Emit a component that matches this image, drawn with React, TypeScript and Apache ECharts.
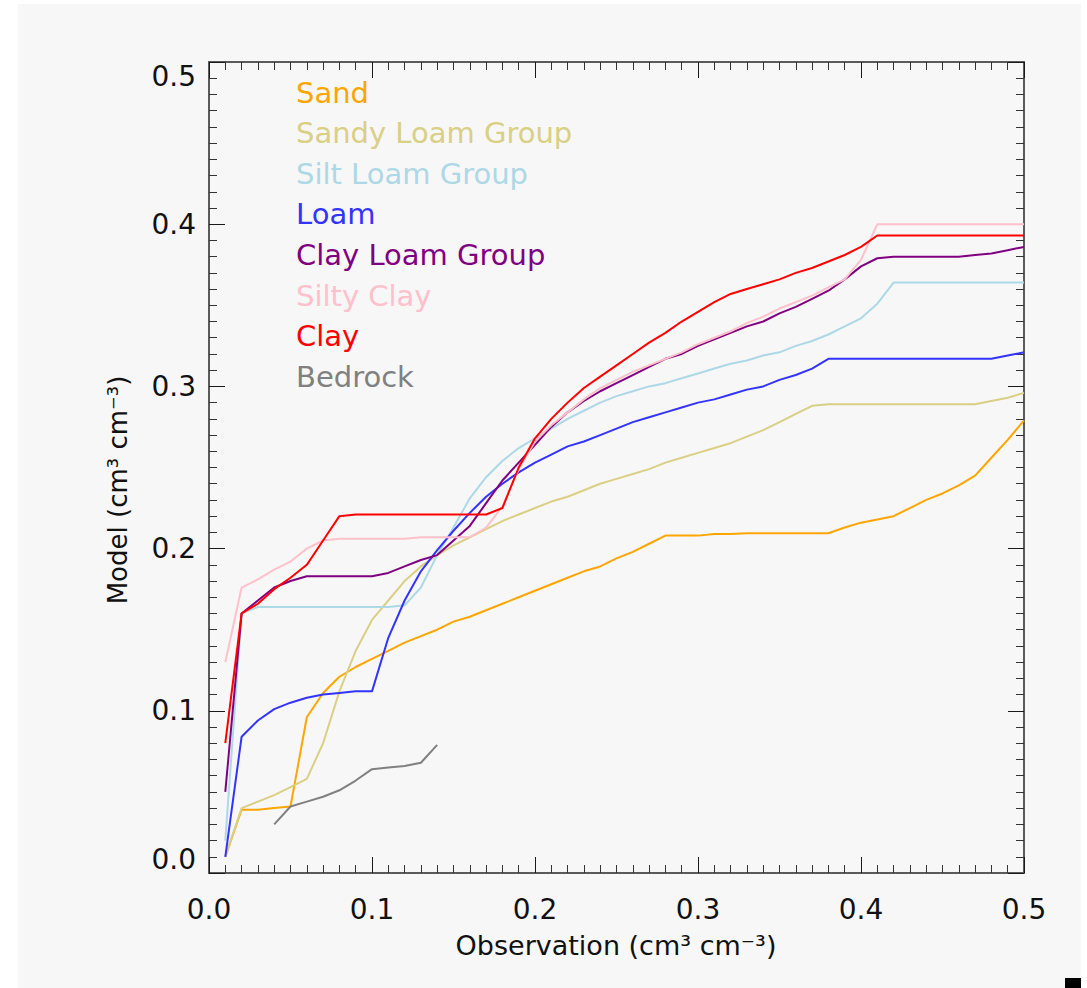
import React, { useEffect, useRef } from "react";
import * as echarts from "echarts";

const obsX = [0.01,0.02,0.03,0.04,0.05,0.06,0.07,0.08,0.09,0.10,0.11,0.12,0.13,0.14,0.15,0.16,0.17,0.18,0.19,0.20,0.21,0.22,0.23,0.24,0.25,0.26,0.27,0.28,0.29,0.30,0.31,0.32,0.33,0.34,0.35,0.36,0.37,0.38,0.39,0.40,0.41,0.42,0.43,0.44,0.45,0.46,0.47,0.48,0.49,0.50];

const sand = [0.010,0.039,0.039,0.040,0.041,0.096,0.111,0.121,0.127,0.132,0.137,0.142,0.146,0.150,0.155,0.158,0.162,0.166,0.170,0.174,0.178,0.182,0.186,0.189,0.194,0.198,0.203,0.208,0.208,0.208,0.209,0.209,0.2095,0.2095,0.2095,0.2095,0.2095,0.2095,0.213,0.216,0.218,0.220,0.225,0.230,0.234,0.239,0.245,0.256,0.267,0.279];

const sandyLoam = [0.010,0.040,0.044,0.048,0.053,0.058,0.080,0.112,0.137,0.156,0.168,0.180,0.189,0.196,0.202,0.207,0.212,0.217,0.221,0.225,0.229,0.232,0.236,0.240,0.243,0.246,0.249,0.253,0.256,0.259,0.262,0.265,0.269,0.273,0.278,0.283,0.288,0.289,0.289,0.289,0.289,0.289,0.289,0.289,0.289,0.289,0.289,0.291,0.293,0.296];

const siltLoam = [0.020,0.160,0.164,0.164,0.164,0.164,0.164,0.164,0.164,0.164,0.164,0.165,0.176,0.196,0.213,0.231,0.244,0.254,0.262,0.268,0.274,0.280,0.285,0.290,0.294,0.297,0.300,0.302,0.305,0.308,0.311,0.314,0.316,0.319,0.321,0.325,0.328,0.332,0.337,0.342,0.351,0.364,0.364,0.364,0.364,0.364,0.364,0.364,0.364,0.364];

const loam = [0.010,0.084,0.094,0.101,0.105,0.108,0.110,0.111,0.112,0.112,0.145,0.168,0.186,0.199,0.211,0.222,0.232,0.240,0.247,0.253,0.258,0.263,0.266,0.270,0.274,0.278,0.281,0.284,0.287,0.290,0.292,0.295,0.298,0.300,0.304,0.307,0.311,0.317,0.317,0.317,0.317,0.317,0.317,0.317,0.317,0.317,0.317,0.317,0.319,0.321];

const clayLoam = [0.050,0.160,0.168,0.176,0.180,0.183,0.183,0.183,0.183,0.183,0.185,0.189,0.193,0.196,0.205,0.214,0.228,0.242,0.253,0.264,0.275,0.284,0.291,0.297,0.302,0.307,0.312,0.317,0.320,0.325,0.329,0.333,0.337,0.340,0.345,0.349,0.354,0.359,0.366,0.374,0.379,0.380,0.380,0.380,0.380,0.380,0.381,0.382,0.384,0.386];

const siltyClay = [0.130,0.176,0.181,0.187,0.192,0.200,0.205,0.206,0.206,0.206,0.206,0.206,0.207,0.207,0.207,0.207,0.213,0.226,0.249,0.266,0.276,0.284,0.292,0.299,0.304,0.309,0.313,0.317,0.321,0.326,0.330,0.334,0.339,0.343,0.348,0.352,0.356,0.361,0.366,0.378,0.400,0.400,0.400,0.400,0.400,0.400,0.400,0.400,0.400,0.400];

const clay = [0.080,0.160,0.166,0.175,0.182,0.190,0.205,0.220,0.221,0.221,0.221,0.221,0.221,0.221,0.221,0.221,0.221,0.225,0.250,0.268,0.280,0.290,0.299,0.306,0.313,0.320,0.327,0.333,0.340,0.346,0.352,0.357,0.360,0.363,0.366,0.370,0.373,0.377,0.381,0.386,0.393,0.393,0.393,0.393,0.393,0.393,0.393,0.393,0.393,0.393];

const bedrockX = [0.04,0.05,0.06,0.07,0.08,0.09,0.10,0.11,0.12,0.13,0.14];
const bedrock = [0.030,0.041,0.044,0.047,0.051,0.057,0.064,0.065,0.066,0.068,0.079];

const seriesNames = ["Sand","Sandy Loam Group","Silt Loam Group","Loam","Clay Loam Group","Silty Clay","Clay","Bedrock"];
const seriesColors = ["#ffa500","#d9cf85","#add8e6","#3333ff","#800080","#ffc0cb","#ff0000","#808080"];
const seriesValues = [sand, sandyLoam, siltLoam, loam, clayLoam, siltyClay, clay, bedrock];
const seriesX = [obsX, obsX, obsX, obsX, obsX, obsX, obsX, bedrockX];

const tickFmt = (v: number) => v.toFixed(1);
const FONT = "DejaVu Sans";

export default function App() {
  const ref = useRef<HTMLDivElement>(null);
  useEffect(() => {
    if (!ref.current) return;
    const chart = echarts.init(ref.current, null, { renderer: "svg" });
    const axisLine = { show: true, onZero: false, lineStyle: { color: "#5a5a5a", width: 2 } };
    const axisTick = { show: true, inside: true, length: 16, lineStyle: { color: "#1a1a1a", width: 1 } };
    const minorTick = { show: true, splitNumber: 10, length: 8, lineStyle: { color: "#333", width: 1 } };
    const common = {
      type: "value" as const,
      min: 0,
      max: 0.5,
      interval: 0.1,
      axisLine,
      axisTick,
      minorTick,
      splitLine: { show: false },
    };
    chart.setOption({
      animation: false,
      backgroundColor: "#ffffff",
      grid: { left: 209, top: 62, right: 63, bottom: 115, containLabel: false },
      xAxis: [
        {
          ...common,
          position: "bottom",
          axisLabel: { show: true, formatter: tickFmt, margin: 22, color: "#111", fontFamily: FONT, fontSize: 28 },
        },
        { ...common, position: "top", axisLabel: { show: false } },
      ],
      yAxis: [
        {
          ...common,
          position: "left",
          axisLabel: {
            show: true,
            formatter: tickFmt,
            margin: 13,
            color: "#111",
            fontFamily: FONT,
            fontSize: 28,
            verticalAlignMinLabel: "bottom",
            verticalAlignMaxLabel: "top",
          },
        },
        { ...common, position: "right", axisLabel: { show: false } },
      ],
      legend: {
        show: true,
        orient: "vertical",
        left: 286,
        top: 73,
        itemGap: 11.6,
        itemWidth: 0,
        itemHeight: 0,
        icon: "circle",
        selectedMode: false,
        textStyle: { fontFamily: FONT, fontSize: 29 },
        data: seriesNames.map((n, i) => ({ name: n, textStyle: { color: seriesColors[i] } })),
      },
      graphic: [
        { type: "rect", z: -100, shape: { x: 18, y: 4, width: 1063, height: 984 }, style: { fill: "#f7f7f7" }, silent: true },
        { type: "rect", z: 10, shape: { x: 1065, y: 978, width: 16, height: 10 }, style: { fill: "#000" }, silent: true },
        {
          type: "text",
          x: 616,
          y: 945,
          style: { text: "Observation (cm³ cm⁻³)", fontFamily: FONT, fontSize: 27, fill: "#111", align: "center", verticalAlign: "middle" },
        },
        {
          type: "text",
          x: 118,
          y: 490,
          rotation: Math.PI / 2,
          style: { text: "Model (cm³ cm⁻³)", fontFamily: FONT, fontSize: 26, fill: "#111", align: "center", verticalAlign: "middle" },
        },
      ],
      series: seriesNames.map((n, i) => ({
        name: n,
        type: "line",
        xAxisIndex: 0,
        yAxisIndex: 0,
        showSymbol: false,
        symbol: "none",
        color: seriesColors[i],
        lineStyle: { color: seriesColors[i], width: 2 },
        data: seriesX[i].map((x, j) => [x, seriesValues[i][j]]),
      })),
    });
    return () => chart.dispose();
  }, []);
  return <div ref={ref} style={{ position: "absolute", left: 0, top: 0, width: 1087, height: 988 }} />;
}
